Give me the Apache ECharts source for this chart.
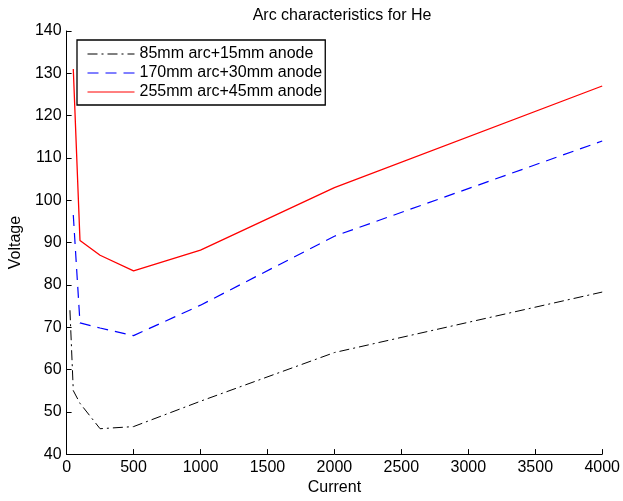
<!DOCTYPE html>
<html>
<head>
<meta charset="utf-8">
<script src="https://cdn.jsdelivr.net/npm/echarts@6/dist/echarts.min.js"></script>
<style>
  html, body { margin: 0; padding: 0; background: #fff; }
  #chart { width: 623px; height: 501px; }
</style>
</head>
<body>
<div id="chart"></div>
<script>
// Arc voltage vs. current for helium, three arc/anode lengths
const seriesNames = ['85mm arc+15mm anode', '170mm arc+30mm anode', '255mm arc+45mm anode'];

const currentShort = [25, 50, 100, 250, 500, 1000, 2000, 4000];
const voltageShort = [74, 55, 52, 46, 46.5, 52.5, 64, 78.3];

const currentMid = [50, 100, 250, 500, 1000, 2000, 4000];
const voltageMid = [96.5, 71, 69.8, 68, 75.2, 91.5, 114];

const currentLong = [50, 100, 250, 500, 1000, 2000, 4000];
const voltageLong = [131, 90.5, 87, 83.3, 88.2, 103, 127];

const pairs = (xs, ys) => xs.map((x, i) => [x, ys[i]]);

const font = 'Liberation Sans, Arial, sans-serif';
const fs = 16;

const chart = echarts.init(document.getElementById('chart'), null, { renderer: 'canvas' });
chart.setOption({
  animation: false,
  backgroundColor: '#fff',
  title: {
    text: 'Arc characteristics for He',
    left: 337, textAlign: 'center', top: 3,
    textStyle: { fontFamily: font, fontSize: fs, fontWeight: 'normal', color: '#000' }
  },
  grid: { left: 66, right: 19, top: 31, bottom: 46 },
  legend: {
    orient: 'vertical',
    left: 77, top: 40,
    padding: [6, 3, 5, 10],
    itemGap: 3,
    itemWidth: 47, itemHeight: 16,
    itemTextGap: 7,
    borderColor: '#000', borderWidth: 1.3,
    backgroundColor: '#fff',
    itemStyle: { opacity: 0, borderWidth: 0 },
    lineStyle: { width: 1 },
    textStyle: { fontFamily: font, fontSize: fs, color: '#000' },
    data: seriesNames
  },
  xAxis: {
    type: 'value', min: 0, max: 4000, interval: 500,
    name: 'Current', nameLocation: 'middle', nameGap: 25,
    nameTextStyle: { fontFamily: font, fontSize: fs, color: '#000' },
    axisLine: { show: true, onZero: false, lineStyle: { color: '#000', width: 1 } },
    axisTick: { show: true, inside: true, length: 5, lineStyle: { color: '#000' } },
    axisLabel: { fontFamily: font, fontSize: fs, color: '#000', margin: 5, formatter: v => String(v) },
    splitLine: { show: false }
  },
  yAxis: {
    type: 'value', min: 40, max: 140, interval: 10,
    name: 'Voltage', nameLocation: 'middle', nameGap: 39,
    nameTextStyle: { fontFamily: font, fontSize: fs, color: '#000' },
    axisLine: { show: true, onZero: false, lineStyle: { color: '#000', width: 1 } },
    axisTick: { show: true, inside: true, length: 5, lineStyle: { color: '#000' } },
    axisLabel: { fontFamily: font, fontSize: fs, color: '#000', margin: 5, formatter: v => String(v) },
    splitLine: { show: false }
  },
  series: [
    {
      name: seriesNames[0], type: 'line', showSymbol: false, symbol: 'none',
      data: pairs(currentShort, voltageShort),
      lineStyle: { color: '#000', width: 1, type: [10, 4, 2, 4] },
      itemStyle: { color: '#000' }
    },
    {
      name: seriesNames[1], type: 'line', showSymbol: false, symbol: 'none',
      data: pairs(currentMid, voltageMid),
      lineStyle: { color: '#0000ff', width: 1.2, type: [11, 7] },
      itemStyle: { color: '#0000ff' }
    },
    {
      name: seriesNames[2], type: 'line', showSymbol: false, symbol: 'none',
      data: pairs(currentLong, voltageLong),
      lineStyle: { color: '#ff0000', width: 1.3, type: 'solid' },
      itemStyle: { color: '#ff0000' }
    }
  ]
});
</script>
</body>
</html>
